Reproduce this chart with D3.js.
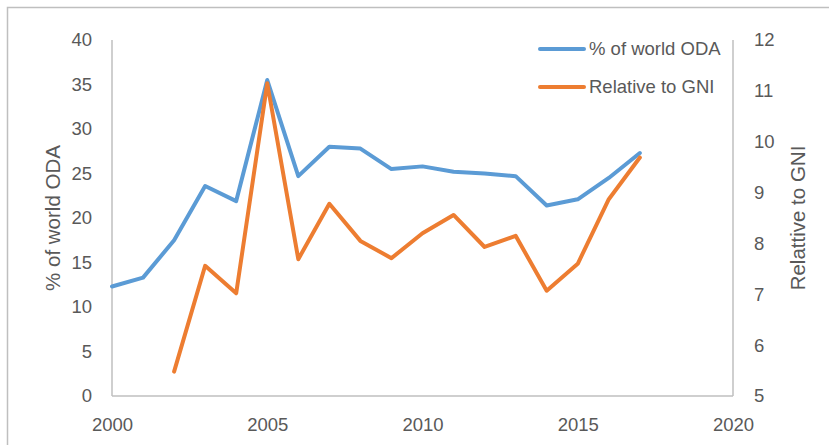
<!DOCTYPE html>
<html><head><meta charset="utf-8">
<script src="https://cdn.jsdelivr.net/npm/d3@7"></script>
<style>body{margin:0;background:#fff}svg{display:block}text{font-family:"Liberation Sans",Arial,sans-serif;fill:#595959}</style>
</head><body><svg id="c" width="829" height="445"></svg>
<script>
const years = [2000,2001,2002,2003,2004,2005,2006,2007,2008,2009,2010,2011,2012,2013,2014,2015,2016,2017];
const worldOda = [12.3,13.3,17.5,23.6,21.9,35.5,24.7,28.0,27.8,25.5,25.8,25.2,25.0,24.7,21.4,22.1,24.5,27.3];
const gniYears = [2002,2003,2004,2005,2006,2007,2008,2009,2010,2011,2012,2013,2014,2015,2016,2017];
const relGni = [5.48,7.56,7.02,11.15,7.69,8.78,8.05,7.71,8.2,8.56,7.93,8.15,7.07,7.6,8.87,9.69];
const xTicks = [2000,2005,2010,2015,2020];
const yLeftTicks = [0,5,10,15,20,25,30,35,40];
const yRightTicks = [5,6,7,8,9,10,11,12];
const seriesNames = ["% of world ODA","Relative to GNI"];
const colors = ["#5b9bd5","#ed7d31"];

const svg = d3.select("#c");
const L=112,R=733,T=40,B=396;
const x = d3.scaleLinear().domain([2000,2020]).range([L,R]);
const yL = d3.scaleLinear().domain([0,40]).range([B,T]);
const yR = d3.scaleLinear().domain([5,12]).range([B,T]);

// outer frame
svg.append("path").attr("d",`M7.5,${450}V7.5H${840}`).attr("fill","none").attr("stroke","#bfbfbf").attr("stroke-width",1.5);

const gray="#bfbfbf";
svg.append("line").attr("x1",L).attr("x2",L).attr("y1",T).attr("y2",B).attr("stroke",gray).attr("stroke-width",1.5);
svg.append("line").attr("x1",R).attr("x2",R).attr("y1",T).attr("y2",B).attr("stroke",gray).attr("stroke-width",1.5);
svg.append("line").attr("x1",L).attr("x2",R).attr("y1",B).attr("y2",B).attr("stroke",gray).attr("stroke-width",1.5);

const fs=18.5, tfs=20.5;
const fmt = d3.format("d");
const gL = svg.append("g").attr("transform",`translate(${L},0)`).call(d3.axisLeft(yL).tickValues(yLeftTicks).tickFormat(fmt).tickSize(0).tickPadding(20));
const gR = svg.append("g").attr("transform",`translate(${R},0)`).call(d3.axisRight(yR).tickValues(yRightTicks).tickFormat(fmt).tickSize(0).tickPadding(21));
const gX = svg.append("g").attr("transform",`translate(0,${B})`).call(d3.axisBottom(x).tickValues(xTicks).tickFormat(fmt).tickSize(0).tickPadding(22));
[gL,gR,gX].forEach(g=>{g.select(".domain").remove();g.selectAll("text").attr("font-size",fs).attr("fill","#595959").attr("font-family",'"Liberation Sans",Arial,sans-serif');});

svg.append("text").attr("transform",`translate(59.5,218) rotate(-90)`).attr("text-anchor","middle").attr("font-size",tfs).text("% of world ODA");
svg.append("text").attr("transform",`translate(805,218) rotate(-90)`).attr("text-anchor","middle").attr("font-size",tfs).text("Relattive to GNI");

const lineL = d3.line().x((d,i)=>x(years[i])).y(d=>yL(d));
const lineR = d3.line().x((d,i)=>x(gniYears[i])).y(d=>yR(d));
svg.append("path").datum(worldOda).attr("d",lineL).attr("fill","none").attr("stroke",colors[0]).attr("stroke-width",4).attr("stroke-linejoin","round").attr("stroke-linecap","round");
svg.append("path").datum(relGni).attr("d",lineR).attr("fill","none").attr("stroke",colors[1]).attr("stroke-width",4).attr("stroke-linejoin","round").attr("stroke-linecap","round");

const lg = svg.append("g");
seriesNames.forEach((n,i)=>{
  const yy = 49 + i*38;
  lg.append("line").attr("x1",540).attr("x2",584).attr("y1",yy).attr("y2",yy).attr("stroke",colors[i]).attr("stroke-width",4).attr("stroke-linecap","round");
  lg.append("text").attr("x",589).attr("y",yy).attr("dy","0.35em").attr("font-size",fs).text(n);
});
</script></body></html>
